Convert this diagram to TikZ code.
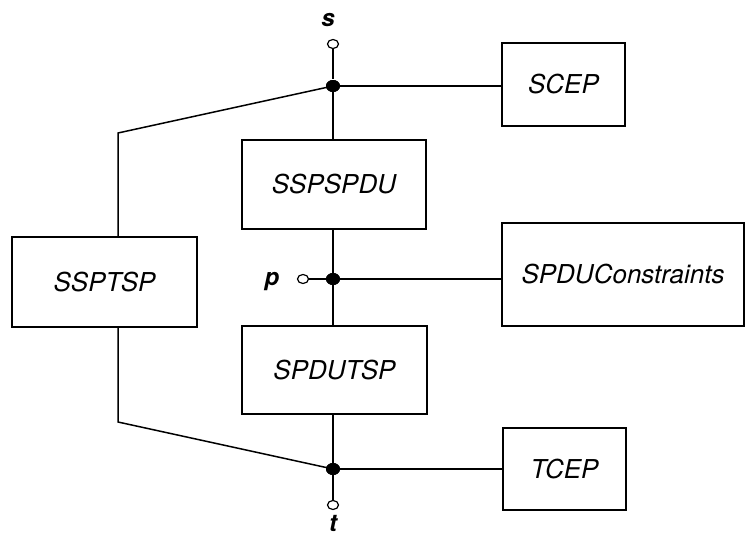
\documentclass[tikz,border=0pt]{standalone}
\usepackage{fontspec}
\setmainfont{TeX Gyre Heros}
\usetikzlibrary{shapes.geometric}
\begin{document}
\begin{tikzpicture}[x=1pt,y=-1pt,line width=1.5pt,
  box/.style={draw,rectangle,inner sep=0pt,font=\fontsize{26}{30}\selectfont\itshape},
  junc/.style={ellipse,fill=black,inner sep=0pt,minimum width=14pt,minimum height=12pt},
  port/.style={ellipse,draw,fill=white,inner sep=0pt,minimum width=11pt,minimum height=9pt,line width=1.2pt},
  lab/.style={inner sep=0pt,font=\fontsize{24}{28}\selectfont\bfseries\itshape}]
\useasboundingbox (0,0) rectangle (746,535);
\node[box,minimum width=184pt,minimum height=89pt] (sspspdu) at (334,184.5) {SSPSPDU};
\node[box,minimum width=185pt,minimum height=88pt] (spdutsp) at (334.5,370) {SPDUTSP};
\node[box,minimum width=185pt,minimum height=90pt] (ssptsp) at (104.5,282) {SSPTSP};
\node[box,minimum width=123pt,minimum height=83pt] (scep) at (563.5,84.5) {SCEP};
\node[box,minimum width=242pt,minimum height=103pt] (spduc) at (623,274.5) {SPDUConstraints};
\node[box,minimum width=123pt,minimum height=82pt] (tcep) at (564.5,469) {TCEP};
\node[junc] (dtop) at (333,86) {};
\node[junc] (dmid) at (333,279) {};
\node[junc] (dbot) at (333,469) {};
\node[port] (s) at (333,44) {};
\node[port] (p) at (303,279) {};
\node[port] (t) at (333,505) {};
\node[lab] (slab) at (328,20) {s};
\node[lab] (plab) at (272,282) {p};
\node[lab] (tlab) at (333,523) {t};
\coordinate (ltop) at (118,133);
\coordinate (lbot) at (118,422);
\draw (s) -- (dtop);
\draw (dtop.center) -- (dtop.center |- sspspdu.north);
\draw (dtop.center) -- (dtop.center -| scep.west);
\draw (dtop.center) -- (ltop) -- (ltop |- ssptsp.north);
\draw (ssptsp.south -| ltop) -- (lbot) -- (dbot.center);
\draw (sspspdu.south -| dmid.center) -- (dmid.center) -- (dmid.center |- spdutsp.north);
\draw (p) -- (dmid.center) -- (dmid.center -| spduc.west);
\draw (spdutsp.south -| dbot.center) -- (dbot.center) -- (t);
\draw (dbot.center) -- (dbot.center -| tcep.west);
\node[junc] at (dtop) {};
\node[junc] at (dmid) {};
\node[junc] at (dbot) {};
\end{tikzpicture}
\end{document}
